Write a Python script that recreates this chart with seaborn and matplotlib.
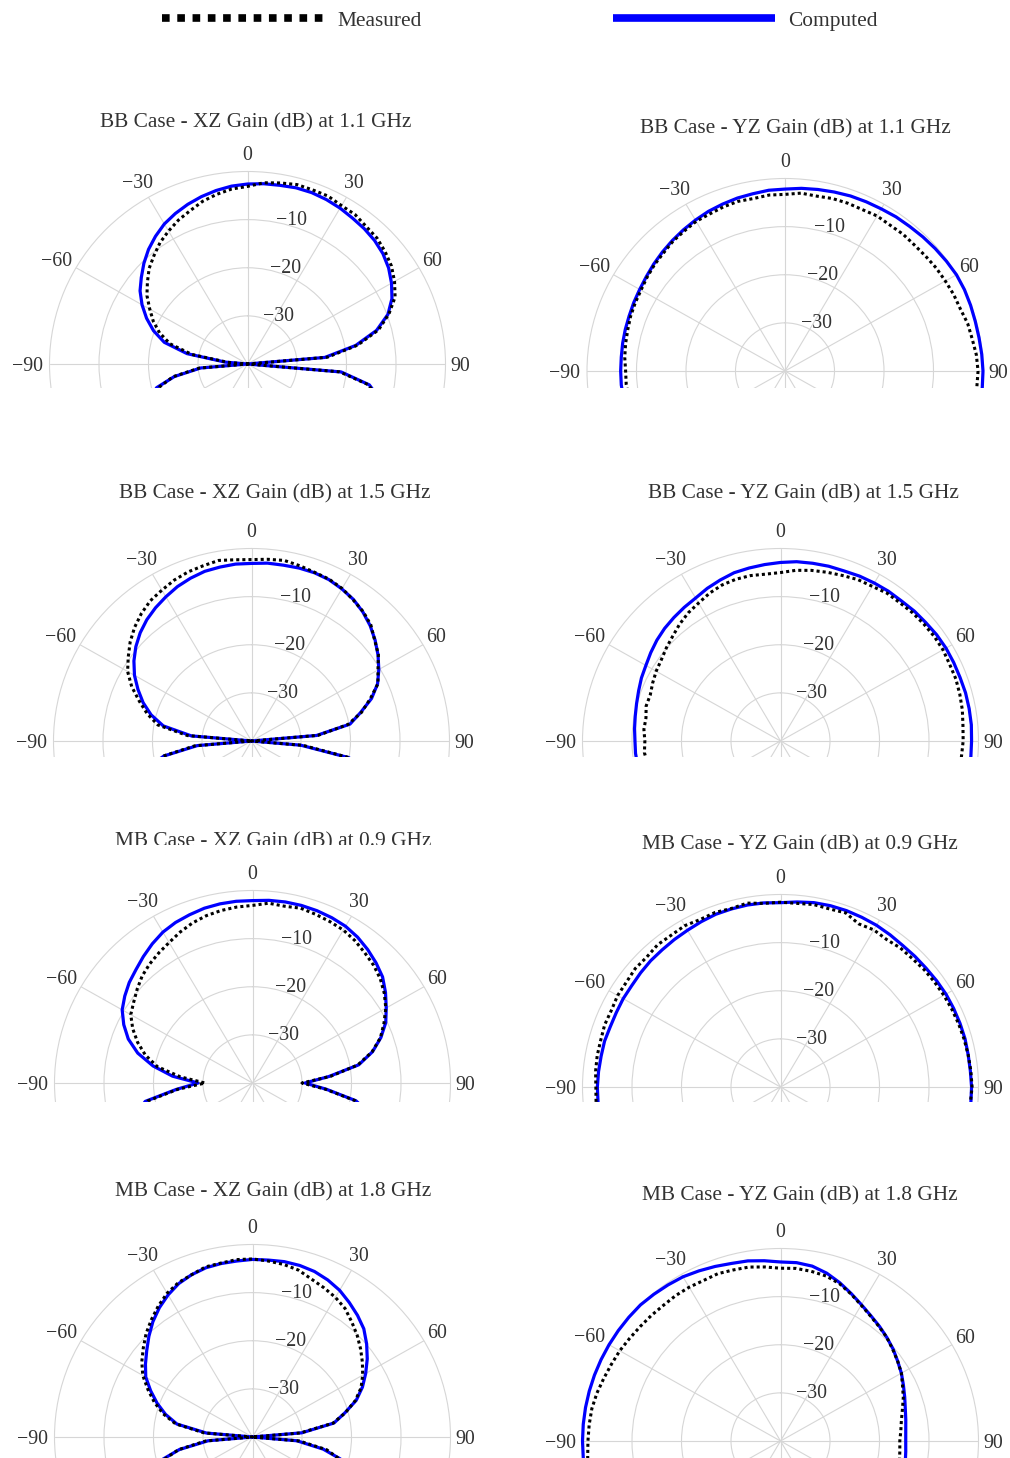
import numpy as np
import matplotlib
matplotlib.use("Agg")
import matplotlib.pyplot as plt
import seaborn as sns
from matplotlib.lines import Line2D
from matplotlib.patches import Rectangle
from matplotlib.transforms import ScaledTranslation

# ===== Data: gain in dB, sampled every 5 deg from -120 to 120 =====
theta_deg = np.arange(-120, 121, 5)

titles = [
    "BB Case - XZ Gain (dB) at 1.1 GHz", "BB Case - YZ Gain (dB) at 1.1 GHz",
    "BB Case - XZ Gain (dB) at 1.5 GHz", "BB Case - YZ Gain (dB) at 1.5 GHz",
    "MB Case - XZ Gain (dB) at 0.9 GHz", "MB Case - YZ Gain (dB) at 0.9 GHz",
    "MB Case - XZ Gain (dB) at 1.8 GHz", "MB Case - YZ Gain (dB) at 1.8 GHz",
]

bb_xz_11_comp = [-16.0, -17.5, -19.0, -21.0, -25.0, -30.5, -40.0, -35.5, -27.6, -22.6, -19.8, -17.5, -15.4,
                 -13.5, -12.0, -10.4, -8.9, -7.6, -6.4, -5.5, -4.7, -4.0, -3.4, -2.9, -2.6, -2.4, -2.3, -2.1,
                 -2.1, -2.3, -2.6, -3.0, -3.3, -3.7, -4.3, -5.2, -6.4, -7.8, -9.8, -13.0, -17.8, -24.3, -40.0,
                 -21.0, -15.0, -12.5, -11.0, -10.0, -9.0]
bb_xz_11_meas = [-16.4, -18.1, -19.3, -21.6, -24.7, -30.2, -40.0, -36.0, -28.6, -23.8, -21.1, -19.0, -17.2,
                 -15.2, -13.6, -11.9, -10.6, -9.2, -8.1, -7.0, -6.1, -5.0, -4.2, -3.5, -3.1, -2.2, -1.8, -1.4,
                 -1.5, -1.5, -2.0, -2.1, -2.7, -3.0, -3.7, -4.5, -5.7, -7.1, -9.6, -12.6, -17.4, -23.8, -40.0,
                 -21.3, -15.2, -12.9, -11.1, -10.3, -9.2]

bb_yz_11_comp = [-7.0, -7.0, -7.0, -6.9, -6.9, -6.8, -6.8, -6.8, -6.7, -6.6, -6.5, -6.3, -6.1, -5.8, -5.4,
                 -5.0, -4.6, -4.2, -3.8, -3.4, -3.1, -2.8, -2.6, -2.3, -2.2, -1.9, -1.7, -1.5, -1.3, -1.2,
                 -1.1, -0.9, -0.8, -0.6, -0.4, -0.2, 0.0, 0.0, -0.1, -0.2, -0.2, -0.1, 0.0, 0.0, 0.0, 0.0,
                 0.0, 0.0, 0.0]
bb_yz_11_meas = [-8.2, -8.0, -8.1, -7.9, -8.0, -7.8, -7.8, -7.5, -7.3, -7.1, -6.8, -6.6, -6.4, -6.0, -5.6,
                 -5.3, -4.8, -4.5, -4.1, -4.0, -3.7, -3.5, -3.6, -3.3, -3.3, -2.9, -3.1, -2.9, -2.9, -3.0,
                 -2.8, -3.0, -2.9, -3.0, -2.9, -2.7, -2.6, -2.4, -2.3, -1.8, -1.6, -1.2, -1.0, -1.1, -1.2,
                 -1.3, -1.4, -1.4, -1.5]

bb_xz_15_comp = [-14.5, -15.5, -17.0, -18.5, -22.0, -29.0, -40.0, -27.8, -21.9, -19.0, -16.7, -14.7, -12.7,
                 -11.0, -9.5, -8.2, -7.1, -6.2, -5.4, -4.6, -4.0, -3.5, -3.3, -3.1, -3.1, -2.9, -2.9, -2.8,
                 -2.8, -3.0, -3.5, -4.1, -5.0, -6.1, -7.4, -8.8, -10.3, -11.9, -14.2, -17.2, -19.8, -26.8,
                 -40.0, -30.0, -20.0, -17.0, -15.0, -13.8, -12.8]
bb_xz_15_meas = [-14.2, -15.6, -16.8, -19.2, -21.8, -28.5, -40.0, -27.0, -20.8, -18.2, -15.9, -13.3, -11.1,
                 -9.6, -8.0, -6.6, -5.4, -4.4, -3.8, -3.1, -2.6, -2.3, -1.9, -2.2, -2.3, -2.1, -1.9, -2.3,
                 -2.7, -2.9, -3.4, -4.2, -4.9, -5.9, -7.5, -8.7, -10.5, -11.8, -14.5, -17.0, -20.2, -26.5,
                 -40.0, -29.5, -19.7, -16.8, -15.0, -13.5, -12.6]

bb_yz_15_comp = [-11.0, -11.0, -10.9, -10.8, -10.7, -10.6, -10.6, -10.4, -10.2, -9.9, -9.5, -9.0, -8.6,
                 -8.0, -7.4, -6.9, -6.5, -6.1, -5.7, -5.0, -4.4, -3.8, -3.5, -3.2, -2.9, -2.6, -2.5, -2.4,
                 -2.4, -2.2, -2.1, -2.0, -2.0, -1.8, -1.7, -1.5, -1.4, -1.4, -1.4, -1.3, -1.3, -1.3, -1.4,
                 -1.4, -1.5, -1.5, -1.5, -1.5, -1.5]
bb_yz_15_meas = [-12.9, -12.6, -12.8, -12.5, -12.7, -12.4, -12.6, -12.3, -12.4, -11.9, -12.0, -11.5, -11.0,
                 -10.6, -9.9, -9.2, -8.3, -7.5, -6.9, -6.1, -5.5, -5.2, -5.1, -5.2, -5.0, -4.4, -4.0, -3.7,
                 -3.4, -3.0, -2.9, -2.5, -2.5, -2.3, -2.2, -2.1, -2.1, -2.3, -2.3, -2.5, -2.7, -3.0, -3.1,
                 -3.3, -3.4, -3.5, -3.5, -3.5, -3.5]

mb_xz_09_comp = [-11.0, -12.5, -14.0, -15.8, -18.0, -24.5, -29.0, -23.8, -19.6, -16.0, -13.3, -11.3, -9.6,
                 -8.5, -7.5, -6.7, -5.7, -4.7, -3.8, -3.2, -2.8, -2.4, -2.2, -2.1, -2.1, -1.9, -1.8, -1.8,
                 -1.9, -2.1, -2.4, -3.0, -3.8, -4.7, -5.7, -7.2, -8.8, -10.3, -12.4, -14.9, -18.2, -24.5,
                 -29.4, -25.0, -18.8, -15.5, -13.5, -12.0, -11.0]
mb_xz_09_meas = [-11.5, -12.8, -14.3, -16.2, -18.5, -24.8, -30.4, -25.4, -20.5, -17.6, -15.3, -13.3, -11.6,
                 -10.7, -9.6, -8.5, -7.7, -7.0, -6.3, -5.4, -4.6, -4.0, -3.6, -3.3, -3.1, -2.5, -2.7, -2.4,
                 -2.7, -3.0, -3.3, -3.9, -4.7, -5.4, -6.3, -7.5, -8.9, -10.7, -12.5, -15.0, -18.4, -24.2,
                 -30.0, -25.2, -19.0, -15.8, -13.6, -12.2, -11.2]

mb_yz_09_comp = [-3.2, -3.2, -3.1, -3.1, -3.0, -3.0, -3.0, -3.1, -3.2, -3.2, -3.4, -3.4, -3.3, -3.3, -3.1,
                 -2.9, -2.8, -2.6, -2.4, -2.1, -1.8, -1.7, -1.6, -1.6, -1.7, -1.4, -1.1, -1.0, -1.0, -1.1,
                 -1.2, -1.4, -1.6, -1.6, -1.6, -1.5, -1.4, -1.4, -1.4, -1.4, -1.5, -1.5, -1.4, -1.4, -1.4,
                 -1.4, -1.4, -1.4, -1.4]
mb_yz_09_meas = [-2.8, -2.6, -2.9, -2.7, -2.8, -2.6, -2.7, -2.5, -2.4, -2.4, -2.2, -2.3, -2.0, -2.0, -1.7,
                 -1.8, -1.4, -1.5, -1.3, -1.6, -1.4, -1.6, -1.2, -1.7, -1.6, -1.7, -1.5, -1.7, -1.5, -2.6,
                 -2.3, -2.6, -2.3, -2.3, -2.1, -2.0, -1.9, -1.8, -1.7, -1.6, -1.5, -1.4, -1.3, -1.5, -1.4,
                 -1.5, -1.4, -1.5, -1.4]

mb_xz_18_comp = [-17.0, -18.0, -19.5, -20.5, -25.0, -31.0, -40.0, -30.7, -24.5, -21.8, -19.5, -17.3, -15.1,
                 -13.6, -12.1, -10.4, -8.7, -7.2, -5.9, -4.8, -4.1, -3.6, -3.4, -3.3, -3.1, -3.1, -3.0, -3.1,
                 -3.4, -4.0, -4.8, -5.9, -7.0, -8.2, -9.9, -11.7, -13.6, -15.5, -17.7, -20.7, -23.3, -30.0,
                 -40.0, -31.0, -25.5, -21.0, -19.3, -18.0, -17.0]
mb_xz_18_meas = [-16.8, -18.2, -19.3, -21.2, -24.8, -30.5, -40.0, -30.2, -24.2, -21.3, -18.9, -16.7, -14.4,
                 -12.7, -11.2, -9.6, -8.2, -6.8, -5.5, -4.6, -4.1, -3.4, -3.3, -3.0, -3.0, -3.3, -3.6, -4.1,
                 -5.1, -5.8, -6.5, -7.4, -8.8, -10.1, -11.5, -12.9, -14.3, -15.8, -17.9, -20.6, -23.5, -30.3,
                 -40.0, -30.5, -24.8, -21.5, -19.5, -18.2, -17.2]

mb_yz_18_comp = [0.0, 0.0, 0.0, 0.0, 0.0, 0.0, 0.0, 0.0, 0.0, 0.0, 0.0, 0.0, 0.0, 0.0, 0.0, 0.0, -0.2,
                 -0.4, -0.6, -1.0, -1.4, -1.8, -2.0, -2.4, -2.8, -2.8, -3.1, -3.9, -5.0, -6.2, -7.3, -8.2,
                 -8.9, -9.6, -10.3, -11.1, -11.8, -12.6, -13.3, -13.9, -14.3, -14.6, -14.7, -14.6, -14.4,
                 -14.0, -13.5, -12.9, -12.3]
mb_yz_18_meas = [-1.2, -1.0, -1.2, -1.0, -1.1, -0.9, -1.1, -1.2, -1.3, -1.6, -2.0, -2.3, -2.5, -2.8, -3.0,
                 -3.1, -3.2, -3.1, -3.1, -3.2, -3.0, -3.2, -3.3, -3.7, -4.1, -4.0, -4.2, -4.5, -5.2, -6.3,
                 -7.4, -8.3, -9.0, -9.6, -10.4, -11.1, -11.8, -12.8, -13.6, -14.5, -15.2, -15.6, -15.9,
                 -15.8, -15.6, -15.2, -14.6, -14.0, -13.4]

measured = [bb_xz_11_meas, bb_yz_11_meas, bb_xz_15_meas, bb_yz_15_meas,
            mb_xz_09_meas, mb_yz_09_meas, mb_xz_18_meas, mb_yz_18_meas]
computed = [bb_xz_11_comp, bb_yz_11_comp, bb_xz_15_comp, bb_yz_15_comp,
            mb_xz_09_comp, mb_yz_09_comp, mb_xz_18_comp, mb_yz_18_comp]

r_ticks = [-30, -20, -10]
angle_ticks = [-90, -60, -30, 0, 30, 60, 90]

# ===== Layout (pixels) =====
W, H, DPI = 1010, 1458, 100
RX, RY = 198, 192.5   # the original is slightly squashed vertically
centers = [(247.5, 364), (785, 371), (251.5, 741), (780.5, 741),
           (252.5, 1083), (780.5, 1087), (252.5, 1437), (780.5, 1441)]
title_pos = [(256, 123), (795, 129), (274.5, 494), (803, 494),
             (273.5, 842), (800, 845), (273.5, 1192), (800, 1196)]
clip_y = [388, 757, 1102, None]

TEXT = "#333333"
GRID = "#d6d6d6"

sns.set_theme(style="white")
plt.rcParams["font.family"] = ["Liberation Serif", "DejaVu Serif"]


def fx(x):
    return x / W


def fy(y):
    return 1 - y / H


def px(dx, dy):
    return ScaledTranslation(dx / DPI, dy / DPI, fig.dpi_scale_trans)


fig = plt.figure(figsize=(W / DPI, H / DPI), dpi=DPI)
theta_rad = np.deg2rad(theta_deg)

for i in range(8):
    row = i // 2
    cx, cy = centers[i]
    ax = fig.add_axes([fx(cx - RX), fy(cy + RY), 2 * RX / W, 2 * RY / H], projection="polar")
    ax.set_aspect("auto")
    ax.set_zorder(10 * row + 1)
    ax.set_theta_zero_location("N")
    ax.set_theta_direction(-1)

    sns.lineplot(x=theta_rad, y=np.array(computed[i]), ax=ax, sort=False, estimator=None,
                 color="#0000ff", linewidth=2.3)
    sns.lineplot(x=theta_rad, y=np.array(measured[i]), ax=ax, sort=False, estimator=None,
                 color="black", linewidth=2.2, linestyle=(0, (1, 1)))
    # keep the traces above the outer ring and unclipped at 0 dB
    for k, ln in enumerate(ax.lines):
        ln.set_clip_on(False)
        ln.set_zorder(4 + k)

    ax.set_rlim(-40, 0)
    ax.set_thetagrids(np.arange(0, 360, 30), labels=[""] * 12)
    ax.set_rgrids(r_ticks, labels=[""] * len(r_ticks))
    ax.grid(True, color=GRID, linewidth=0.8)
    ax.spines["polar"].set_color(GRID)
    ax.spines["polar"].set_linewidth(0.8)
    ax.set_xlabel("")
    ax.set_ylabel("")

    # radial labels
    for rv in r_ticks:
        ax.text(np.deg2rad(7.7), rv, "\u2212%d" % abs(rv), transform=ax.transData + px(9, 0),
                ha="left", va="center", fontsize=14.3, color=TEXT)
    # angular labels
    for a in angle_ticks:
        s, c = np.sin(np.deg2rad(a)), np.cos(np.deg2rad(a))
        dx = s * (22 if a < 0 else 15)
        dy = c * 18.5 - 2.5
        lbl = ("\u2212%d" % abs(a)) if a < 0 else str(a)
        ax.text(np.deg2rad(a), 0, lbl, transform=ax.transData + px(dx, dy),
                ha="center", va="center", fontsize=14.3, color=TEXT)

    tx, ty = title_pos[i]
    ax.text(fx(tx), fy(ty), titles[i], transform=fig.transFigure, ha="center", va="center",
            fontsize=15.4, color=TEXT)

# white bands hide the lower halves of each row
for row, yc in enumerate(clip_y):
    if yc is None:
        continue
    fig.add_artist(Rectangle((0, 0), 1, fy(yc), transform=fig.transFigure,
                             facecolor="white", edgecolor="none", zorder=10 * row + 5))
# the third row left title is cut at the bottom in the original
fig.add_artist(Rectangle((fx(95), fy(860)), fx(445) - fx(95), fy(845) - fy(860),
                         transform=fig.transFigure, facecolor="white", edgecolor="none", zorder=23))

handles = [Line2D([], [], color="black", linewidth=5.5, linestyle=(0, (1, 1))),
           Line2D([], [], color="#0000ff", linewidth=5.5, solid_capstyle="butt")]
leg = fig.legend(handles, ["Measured", "Computed"], loc="center left",
                 bbox_to_anchor=(fx(162), fy(21)), ncol=2, frameon=False, fontsize=15.4,
                 handlelength=7.6, handletextpad=0.62, columnspacing=8.9,
                 borderpad=0, borderaxespad=0, labelcolor=TEXT)
leg.set_zorder(100)

fig.savefig("out.png", dpi=DPI)
